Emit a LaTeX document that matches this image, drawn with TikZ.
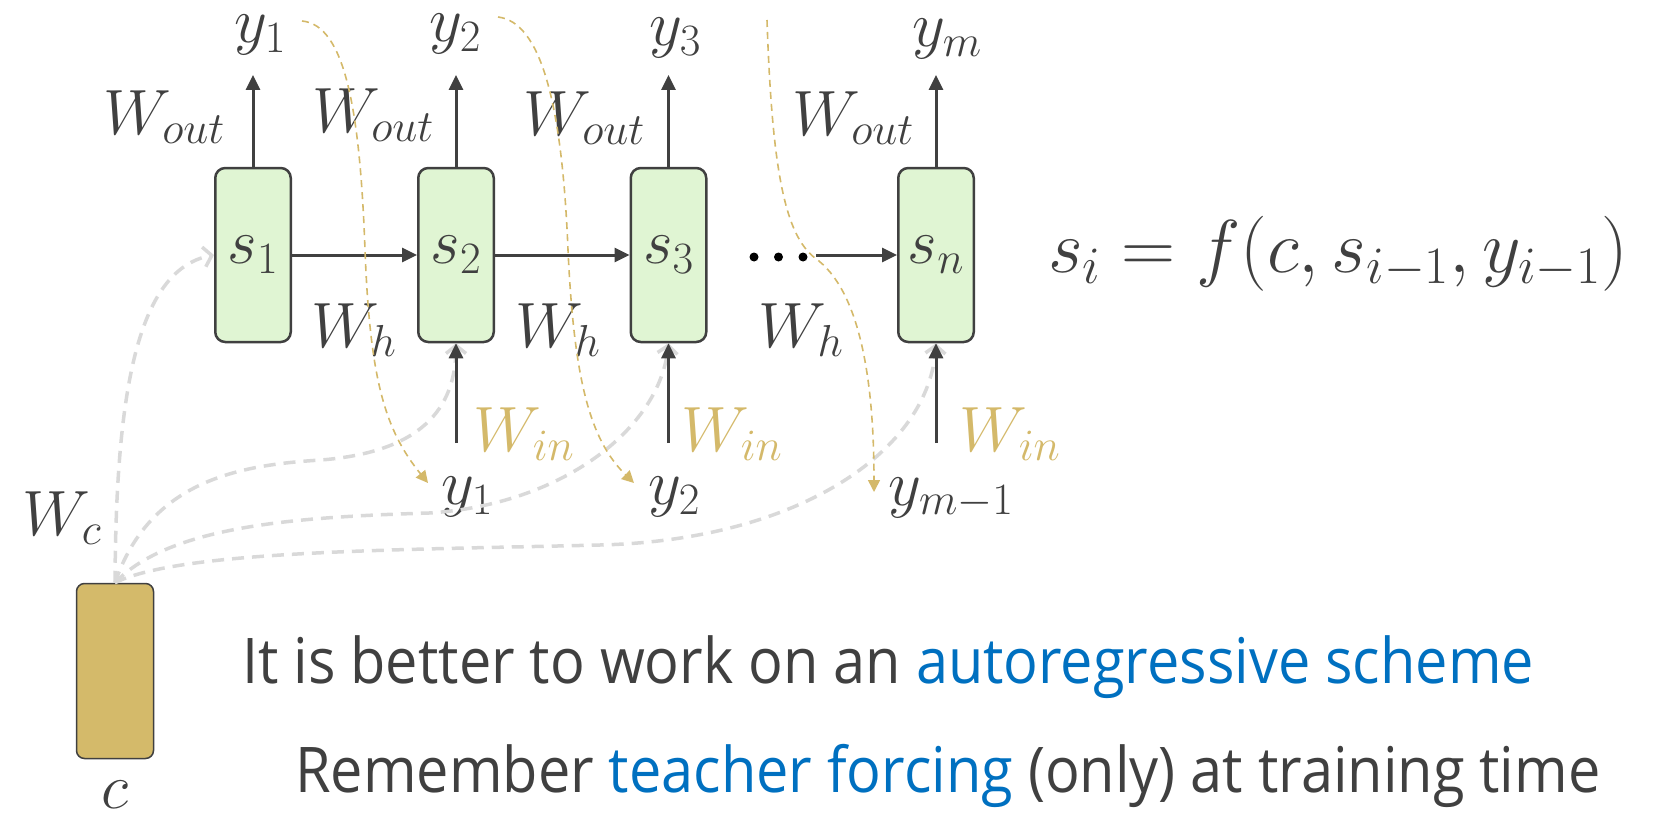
\RequirePackage{fix-cm}
\documentclass[tikz,border=0pt]{standalone}
\usepackage{fontspec}
\usepackage{graphicx}
\usetikzlibrary{arrows.meta}
\newfontfamily\bodyfont[FakeStretch=0.915]{Open Sans}
\definecolor{dark}{HTML}{404040}
\definecolor{goldA}{HTML}{D4B96A}
\definecolor{cellgreen}{HTML}{E0F5D3}
\definecolor{lgray}{HTML}{D9D9D9}
\definecolor{linkblue}{HTML}{0070C0}
\definecolor{cbox}{HTML}{D4BA6A}
\newcommand\mlab{\fontsize{64}{72}\selectfont}
\tikzset{
  cell/.style={draw=dark, line width=2.5pt, fill=cellgreen, rounded corners=10pt,
    minimum width=75.5pt, minimum height=174pt, inner sep=0pt, text=dark, font=\mlab},
  lab/.style={text=dark, font=\mlab, inner sep=0pt},
  inlab/.style={text=goldA, font=\mlab, inner sep=0pt},
  arr/.style={draw=dark, line width=3pt, -{Triangle[length=15pt,width=14pt]}},
  tanarr/.style={draw=goldA, line width=1.6pt, dash pattern=on 7pt off 5pt,
    -{Triangle[length=12pt,width=12pt]}},
  grayarr/.style={draw=lgray, line width=3.5pt, dash pattern=on 12pt off 8pt,
    -{Straight Barb[length=8pt,width=20pt]}},
  bodytext/.style={anchor=base west, text=dark, inner sep=0pt,
    font=\bodyfont\fontsize{63}{70}\selectfont}
}
\begin{document}
\begin{tikzpicture}[x=1pt,y=-1pt]
\useasboundingbox (0,0) rectangle (1663,816);
% cells
\node[cell] (s1) at (253,255) {$s_1$};
\node[cell] (s2) at (456,255) {$s_2$};
\node[cell] (s3) at (668.5,255) {$s_3$};
\node[cell] (sn) at (936,255) {$s_n$};
% c box
\node[draw=dark, line width=1.5pt, fill=cbox, rounded corners=8pt,
  minimum width=77pt, minimum height=175pt] (c) at (115,671) {};
\node[lab] (clab) at (115,795) {$c$};
\node[lab] (wc) at (62,518) {$W_c$};
% top outputs
\node[lab] (y1t) at (260,35) {$y_1$};
\node[lab] (y2t) at (455,34) {$y_2$};
\node[lab] (y3t) at (675,38) {$y_3$};
\node[lab] (ymt) at (947,39) {$y_m$};
\node[lab] (wo1) at (164,117) {$W_{out}$};
\node[lab] (wo2) at (373,115) {$W_{out}$};
\node[lab] (wo3) at (584,118) {$W_{out}$};
\node[lab] (wo4) at (853,118) {$W_{out}$};
\node[lab] (wh1) at (354,330) {$W_h$};
\node[lab] (wh2) at (558,330) {$W_h$};
\node[lab] (wh3) at (801,330) {$W_h$};
\node[inlab] (wi1) at (524,434) {$W_{in}$};
\node[inlab] (wi2) at (732,434) {$W_{in}$};
\node[inlab] (wi3) at (1010,434) {$W_{in}$};
\node[lab] (y1b) at (467,497) {$y_1$};
\node[lab] (y2b) at (674,497) {$y_2$};
\node[lab] (ymb) at (951,498) {$y_{m-1}$};
% formula
\node[lab, font=\fontsize{75}{85}\selectfont] (eq) at (1338,254) {$s_i = f(c, s_{i-1}, y_{i-1})$};
% text
\node[bodytext] (t1) at (242,683) {It is better to work on an \textcolor{linkblue}{autoregressive scheme}};
\node[bodytext] (t2) at (295,792) {Remember \textcolor{linkblue}{teacher forcing} (only) at training time};
% coordinates
\coordinate (o1) at (253,75);
\coordinate (o2) at (456,75);
\coordinate (o3) at (668.5,75);
\coordinate (o4) at (936,75);
\coordinate (i2) at (456,443);
\coordinate (i3) at (668.5,443);
\coordinate (i4) at (936,443);
\coordinate (dotsE) at (816,255);
% gray context connections
\draw[grayarr] (c.north) .. controls (116,400) and (135,270) .. (s1.west);
\draw[grayarr] (c.north) .. controls (150,480) and (240,465) .. (321,460)
  .. controls (420,452) and (456,410) .. (s2.south);
\draw[grayarr] (c.north) .. controls (170,525) and (300,517) .. (429,513)
  .. controls (560,505) and (660,430) .. (s3.south);
\draw[grayarr] (c.north) .. controls (180,550) and (400,550) .. (600,545)
  .. controls (800,540) and (930,450) .. (sn.south);
% black arrows
\draw[arr] (s1.north) -- (o1);
\draw[arr] (s2.north) -- (o2);
\draw[arr] (s3.north) -- (o3);
\draw[arr] (sn.north) -- (o4);
\draw[arr] (s1.east) -- (s2.west);
\draw[arr] (s2.east) -- (s3.west);
\draw[arr] (dotsE) -- (sn.west);
\draw[arr] (i2) -- (s2.south);
\draw[arr] (i3) -- (s3.south);
\draw[arr] (i4) -- (sn.south);
\fill[black] (754,257) circle (4.5) (778.5,257) circle (4.5) (803,257) circle (4.5);
% teacher forcing (tan)
\coordinate (a1) at (302,21);
\coordinate (a2) at (498,17);
\coordinate (a3) at (767,20);
\coordinate (b1) at (428,483);
\coordinate (b2) at (634,483);
\coordinate (b3) at (874,492);
\draw[tanarr] (a1) .. controls (345,25) and (360,110) .. (365,250)
  .. controls (370,380) and (385,430) .. (b1);
\draw[tanarr] (a2) .. controls (540,22) and (562,100) .. (568,250)
  .. controls (574,380) and (590,440) .. (b2);
\draw[tanarr] (a3) .. controls (772,170) and (785,235) .. (815,258)
  .. controls (860,290) and (874,380) .. (b3);
\end{tikzpicture}
\end{document}
